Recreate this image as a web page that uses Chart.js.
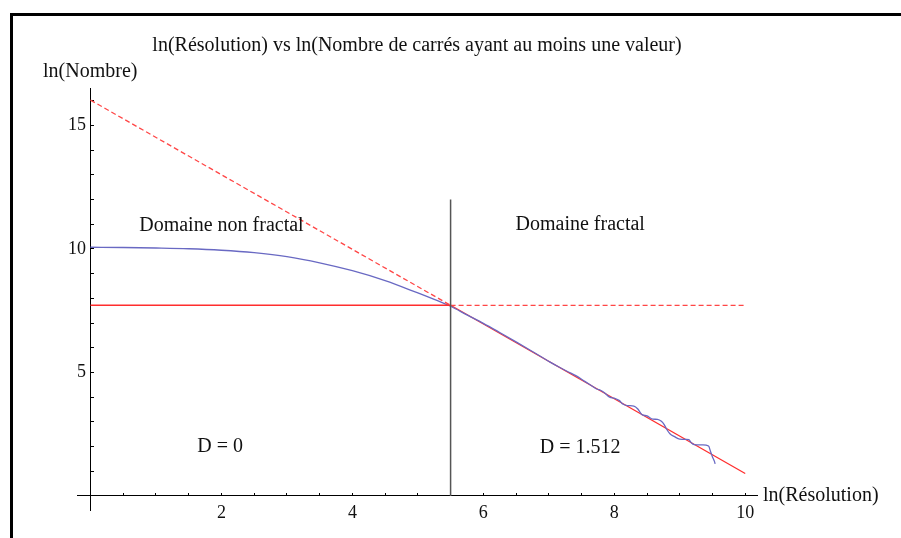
<!DOCTYPE html>
<html lang="fr">
<head>
<meta charset="utf-8">
<title>ln(Résolution) vs ln(Nombre de carrés ayant au moins une valeur)</title>
<script src="https://cdn.jsdelivr.net/npm/chart.js@4/dist/chart.umd.min.js"></script>
<style>
  html, body { margin: 0; padding: 0; background: #fff; }
  #wrap { position: relative; width: 901px; height: 538px; overflow: hidden; }
  #plot { position: absolute; left: 0; top: 0; }
  #frame {
    position: absolute; left: 10px; top: 13px; right: -10px; bottom: -10px;
    border-top: 3px solid #000; border-left: 3px solid #000;
    pointer-events: none;
  }
</style>
</head>
<body>
<div id="wrap">
  <canvas id="plot" width="901" height="538"></canvas>
  <div id="frame"></div>
</div>
<script>
// Measured count curve: ln(resolution) -> ln(number of boxes holding a value)
const curveX = [0, 0.5, 1.0, 1.5, 2.0, 2.5, 3.0, 3.5, 4.0, 4.5, 5.0, 5.25, 5.5,
  5.75, 6.0, 6.25, 6.5, 6.75, 7.02, 7.17, 7.3, 7.42, 7.55, 7.66, 7.73, 7.79, 7.85,
  7.93, 8.0, 8.08, 8.13, 8.2, 8.3, 8.36, 8.42, 8.5, 8.59, 8.66, 8.72, 8.76, 8.8,
  8.85, 8.92, 9.0, 9.1, 9.14, 9.18, 9.22, 9.35, 9.44, 9.47, 9.5, 9.53, 9.54];
const curveY = [10.07, 10.06, 10.04, 10.01, 9.95, 9.85, 9.69, 9.44, 9.12, 8.72, 8.22, 7.96, 7.68,
  7.33, 6.99, 6.62, 6.24, 5.85, 5.42, 5.20, 5.02, 4.86, 4.64, 4.45, 4.33, 4.28, 4.18,
  4.00, 3.96, 3.86, 3.72, 3.66, 3.64, 3.52, 3.30, 3.24, 3.11, 3.10, 3.02, 2.90, 2.70,
  2.52, 2.40, 2.30, 2.29, 2.28, 2.14, 2.08, 2.07, 2.02, 1.80, 1.58, 1.40, 1.30];

// Power-law fit (slope -1.512) and the plateau level
const fitX = [5.5, 10];
const fitY = [7.72, 0.91];
const fitExtX = [0, 5.5];
const fitExtY = [16.03, 7.72];
const plateauX = [0, 5.5];
const plateauY = [7.72, 7.72];
const plateauExtX = [5.5, 10];
const plateauExtY = [7.72, 7.72];

// Boundary between the two regimes
const cutX = [5.5, 5.5];
const cutY = [0, 12];

// Tick labels shown on each axis
const xTickLabels = [2, 4, 6, 8, 10];
const yTickLabels = [5, 10, 15];

// Region captions, anchored in data units
const captionText = ['Domaine non fractal', 'Domaine fractal', 'D = 0', 'D = 1.512'];
const captionX = [2.0, 7.48, 1.98, 7.48];
const captionY = [10.93, 10.97, 1.98, 1.94];

const pts = (xs, ys) => xs.map((x, i) => ({ x: x, y: ys[i] }));

const SERIF = "'Liberation Serif', 'Times New Roman', serif";
const RED = 'rgb(255, 45, 45)';
const DASH_RED = 'rgb(255, 70, 70)';

const textPlugin = {
  id: 'captions',
  afterDraw(chart) {
    const { ctx, scales } = chart;
    ctx.save();
    ctx.fillStyle = '#111';
    ctx.font = '20px ' + SERIF;
    ctx.textBaseline = 'middle';
    ctx.textAlign = 'center';
    captionText.forEach((t, i) => {
      ctx.fillText(t, scales.x.getPixelForValue(captionX[i]), scales.y.getPixelForValue(captionY[i]));
    });
    // axis names
    ctx.textAlign = 'left';
    ctx.fillText('ln(Nombre)', 43, 72);
    ctx.fillText('ln(Résolution)', scales.x.right + 6, scales.y.getPixelForValue(0));
    ctx.restore();
  }
};

const line = (data, color, width, dash) => ({
  data: data,
  borderColor: color,
  borderWidth: width,
  borderDash: dash || [],
  pointRadius: 0,
  fill: false,
  showLine: true,
  tension: 0
});

const blue = line(pts(curveX, curveY), 'rgb(105, 105, 195)', 1.3);
blue.cubicInterpolationMode = 'monotone';

new Chart(document.getElementById('plot'), {
  type: 'scatter',
  data: {
    datasets: [
      line(pts(cutX, cutY), 'rgb(85, 85, 85)', 1.5),
      line(pts(plateauX, plateauY), RED, 1.6),
      line(pts(plateauExtX, plateauExtY), DASH_RED, 1.3, [5, 3]),
      line(pts(fitExtX, fitExtY), DASH_RED, 1.3, [5, 3]),
      blue,
      line(pts(fitX, fitY), RED, 1.3)
    ]
  },
  options: {
    responsive: false,
    animation: false,
    events: [],
    layout: { padding: { left: 77, right: 144, top: 20, bottom: 28 } },
    plugins: {
      legend: { display: false },
      tooltip: { enabled: false },
      title: {
        display: true,
        fullSize: false,
        text: 'ln(Résolution) vs ln(Nombre de carrés ayant au moins une valeur)',
        color: '#111',
        font: { family: SERIF, size: 20, weight: 'normal', lineHeight: 1.2 },
        padding: { top: 14, bottom: 30 }
      }
    },
    scales: {
      x: {
        type: 'linear',
        position: { y: 0 },
        min: -0.206,
        max: 10.18,
        afterFit(s) { s.height = 0; },
        border: { display: true, color: '#000', width: 1 },
        grid: { drawOnChartArea: false, drawTicks: true, tickLength: -3, color: '#000', lineWidth: 1 },
        ticks: {
          stepSize: 0.5,
          includeBounds: false,
          autoSkip: false,
          maxRotation: 0,
          padding: 10,
          color: '#111',
          font: { family: SERIF, size: 18 },
          callback: (v) => xTickLabels.includes(v) ? String(v) : ''
        }
      },
      y: {
        type: 'linear',
        position: { x: 0 },
        min: -0.57,
        max: 16.52,
        afterFit(s) { s.width = 0; },
        border: { display: true, color: '#000', width: 1 },
        grid: { drawOnChartArea: false, drawTicks: true, tickLength: -4, color: '#000', lineWidth: 1 },
        ticks: {
          stepSize: 1,
          includeBounds: false,
          autoSkip: false,
          padding: 4,
          color: '#111',
          font: { family: SERIF, size: 18 },
          // trailing space keeps the numbers clear of the axis line
          callback: (v) => yTickLabels.includes(v) ? String(v) + ' ' : ''
        }
      }
    }
  },
  plugins: [textPlugin]
});
</script>
</body>
</html>
